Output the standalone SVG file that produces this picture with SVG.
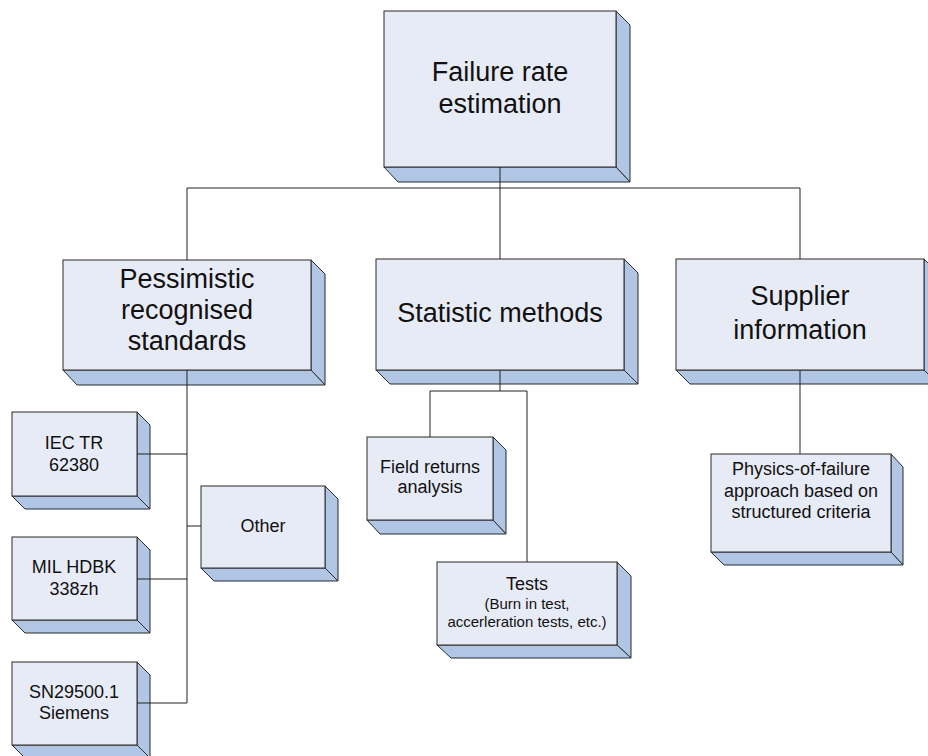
<svg xmlns="http://www.w3.org/2000/svg" width="928" height="756" viewBox="0 0 928 756">
  <style>
    .front { fill: #E7EBF6; stroke: #2b2b2b; stroke-width: 1; }
    .side { fill: #B0C6E4; stroke: #2b2b2b; stroke-width: 1; stroke-linejoin: miter; }
    .lbl { font-family: "Liberation Sans", Arial, sans-serif; fill: #111; text-anchor: middle; }
    .big { font-size: 27px; }
    .mid { font-size: 18px; }
    .sml { font-size: 15px; }
    .wire { fill: none; stroke: #222; stroke-width: 1; }
  </style>
  <rect width="928" height="756" fill="#ffffff"/>

  <!-- root -->
  <g id="root">
    <polygon class="side" points="616,11 630,25 630,182 616,167"/>
    <polygon class="side" points="384,167 616,167 630,182 398,182"/>
    <rect class="front" x="384" y="11" width="232" height="156"/>
    <text class="lbl big" x="500" y="81">Failure rate</text>
    <text class="lbl big" x="500" y="113">estimation</text>
  </g>

  <g id="pessimistic">
    <polygon class="side" points="311,260 325,274 325,385 311,370"/>
    <polygon class="side" points="63,370 311,370 325,385 77,385"/>
    <rect class="front" x="63" y="260" width="248" height="110"/>
    <text class="lbl big" x="187" y="288">Pessimistic</text>
    <text class="lbl big" x="187" y="319">recognised</text>
    <text class="lbl big" x="187" y="350">standards</text>
  </g>

  <g id="statistic">
    <polygon class="side" points="624,259 638,273 638,384 624,370"/>
    <polygon class="side" points="376,370 624,370 638,384 390,384"/>
    <rect class="front" x="376" y="259" width="248" height="111"/>
    <text class="lbl big" x="500" y="322">Statistic methods</text>
  </g>

  <g id="supplier">
    <polygon class="side" points="924,259 938,273 938,384 924,370"/>
    <polygon class="side" points="676,370 924,370 938,384 690,384"/>
    <rect class="front" x="676" y="259" width="248" height="111"/>
    <text class="lbl big" x="800" y="305">Supplier</text>
    <text class="lbl big" x="800" y="339">information</text>
  </g>

  <g id="iec">
    <polygon class="side" points="137,412 150,425 150,509 137,496"/>
    <polygon class="side" points="12,496 137,496 150,509 25,509"/>
    <rect class="front" x="12" y="412" width="125" height="84"/>
    <text class="lbl mid" x="74" y="449">IEC TR</text>
    <text class="lbl mid" x="74" y="471">62380</text>
  </g>

  <g id="mil">
    <polygon class="side" points="137,537 150,550 150,633 137,620"/>
    <polygon class="side" points="12,620 137,620 150,633 25,633"/>
    <rect class="front" x="12" y="537" width="125" height="83"/>
    <text class="lbl mid" x="74" y="573">MIL HDBK</text>
    <text class="lbl mid" x="74" y="595">338zh</text>
  </g>

  <g id="siemens">
    <polygon class="side" points="137,662 150,675 150,758 137,745"/>
    <polygon class="side" points="12,745 137,745 150,758 25,758"/>
    <rect class="front" x="12" y="662" width="125" height="83"/>
    <text class="lbl mid" x="74" y="698">SN29500.1</text>
    <text class="lbl mid" x="74" y="719">Siemens</text>
  </g>

  <g id="other">
    <polygon class="side" points="325,486 338,499 338,581 325,568"/>
    <polygon class="side" points="201,568 325,568 338,581 214,581"/>
    <rect class="front" x="201" y="486" width="124" height="82"/>
    <text class="lbl mid" x="263" y="532">Other</text>
  </g>

  <g id="field">
    <polygon class="side" points="493,437 506,450 506,534 493,520"/>
    <polygon class="side" points="367,520 493,520 506,534 380,534"/>
    <rect class="front" x="367" y="437" width="126" height="83"/>
    <text class="lbl mid" x="430" y="473">Field returns</text>
    <text class="lbl mid" x="430" y="493">analysis</text>
  </g>

  <g id="tests">
    <polygon class="side" points="617,562 631,576 631,658 617,645"/>
    <polygon class="side" points="437,645 617,645 631,658 451,658"/>
    <rect class="front" x="437" y="562" width="180" height="83"/>
    <text class="lbl mid" x="527" y="590">Tests</text>
    <text class="lbl sml" x="527" y="609">(Burn in test,</text>
    <text class="lbl sml" x="527" y="627">accerleration tests, etc.)</text>
  </g>

  <g id="physics">
    <polygon class="side" points="891,454 903,467 903,565 891,552"/>
    <polygon class="side" points="711,552 891,552 903,565 724,565"/>
    <rect class="front" x="711" y="454" width="180" height="98"/>
    <text class="lbl mid" x="801" y="475">Physics-of-failure</text>
    <text class="lbl mid" x="801" y="497">approach based on</text>
    <text class="lbl mid" x="801" y="518">structured criteria</text>
  </g>

  <!-- connectors -->
  <g id="connectors" class="wire">
    <path d="M500,167 V188"/>
    <path d="M187,260 V188 H800 V259"/>
    <path d="M500,188 V259"/>
    <path d="M187,370 V703 H137"/>
    <path d="M137,454 H187"/>
    <path d="M137,579 H187"/>
    <path d="M187,526 H201"/>
    <path d="M430,437 V391 H527 V562"/>
    <path d="M500,370 V391"/>
    <path d="M800,370 V454"/>
  </g>
</svg>
